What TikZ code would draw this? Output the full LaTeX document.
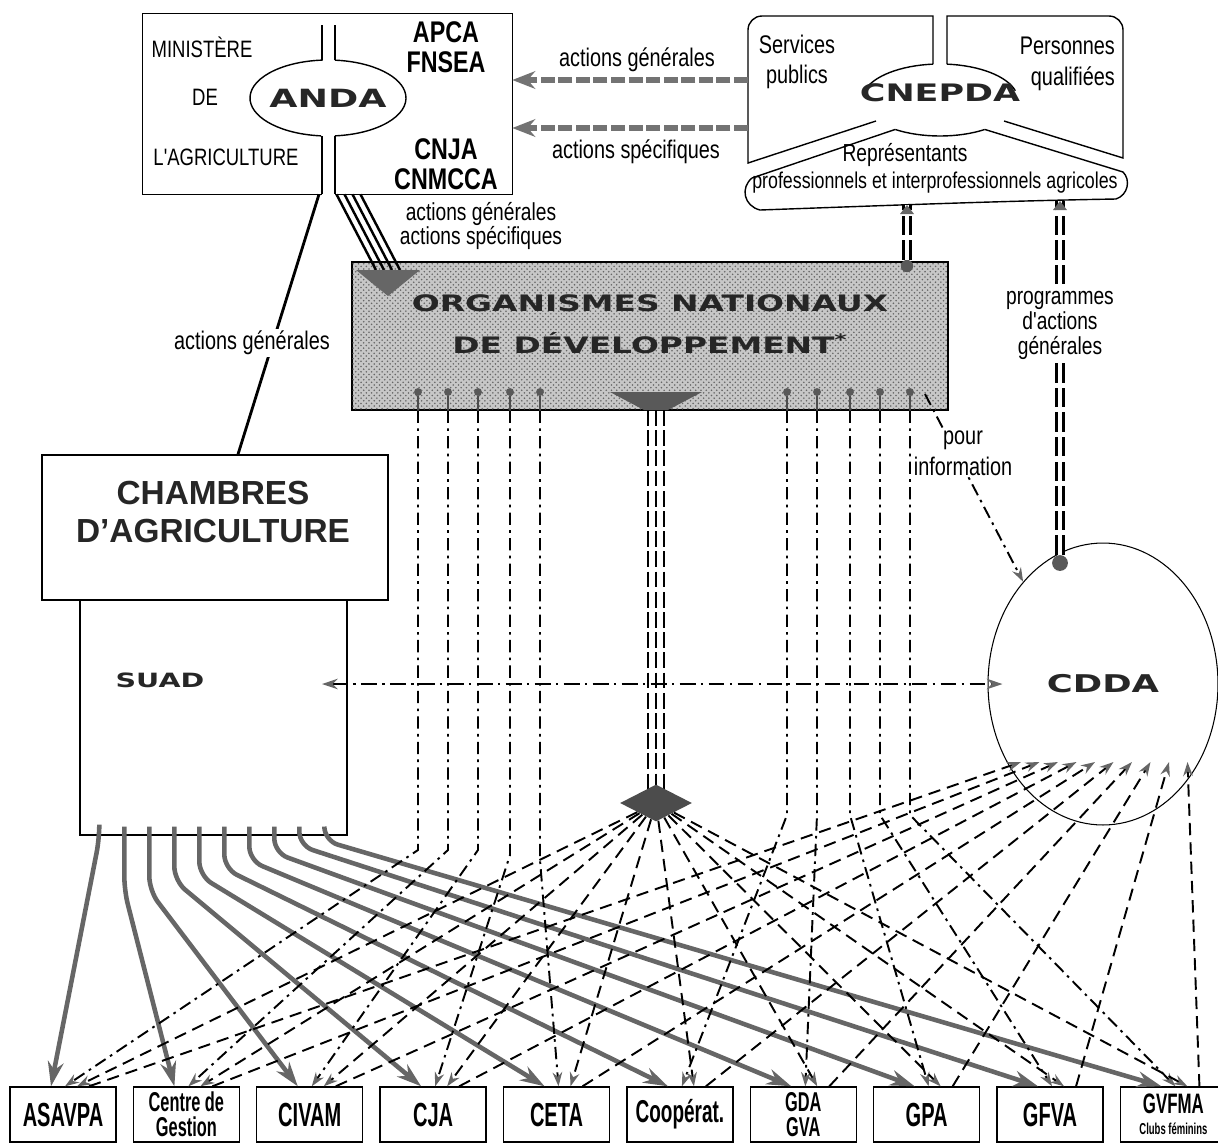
\documentclass[tikz,border=0pt]{standalone}
\usepackage{fontspec}
\setmainfont{Liberation Sans}
\newfontfamily\condfont[FakeStretch=0.78]{Liberation Sans}
\newfontfamily\narrowfont[FakeStretch=0.6]{Liberation Sans}
\newfontfamily\widefont[FakeStretch=1.45]{DejaVu Sans}
\usepackage{tikz}
\usetikzlibrary{arrows.meta,positioning,calc,shapes.geometric,patterns}

\tikzset{
  lbl/.style={font=\condfont\fontsize{14.5}{17.5}\selectfont, inner sep=1pt, align=center},
  caps/.style={font=\condfont\fontsize{13.5}{16}\selectfont, inner sep=1pt},
  orgs/.style={font=\condfont\bfseries\fontsize{17}{17}\selectfont, inner sep=0pt, align=center},
  wide/.style={text=black!85, inner sep=1pt, align=center},
  groupbox/.style={draw, thick, minimum width=2.12cm, minimum height=1.1cm, inner sep=1pt, align=center, font=\narrowfont\bfseries\fontsize{19}{19}\selectfont},
  knob/.style={circle, fill=black!65, inner sep=0pt, minimum size=4.5pt},
  thin tip/.style={>={Stealth[length=8pt,width=5.5pt,color=black!60]}},
  suadarrow/.style={->, >={Stealth[length=14pt,width=9pt]}, line width=2.6pt, draw=black!60, rounded corners=8pt},
  hubline/.style={->, thin tip, line width=1.1pt, dash pattern=on 7pt off 4pt},
  pinline/.style={->, thin tip, line width=1.1pt, dash pattern=on 7pt off 3pt on 1.5pt off 3pt},
  cddaline/.style={->, thin tip, line width=1.1pt, dash pattern=on 7pt off 4pt},
  actarrow/.style={->, >={Stealth[length=13pt,width=10pt]}, line width=3.2pt, draw=black!55, dash pattern=on 8pt off 2pt},
  dbl/.style={double, double distance=2pt, line width=2pt, dash pattern=on 11pt off 3pt},
  tripleline/.style={line width=1.6pt, dash pattern=on 9pt off 2.5pt},
}

\begin{document}
\begin{tikzpicture}[x=0.02cm,y=0.02cm]
  \useasboundingbox (0,0) rectangle (1218,-1144);

  \node[minimum width=7.38cm, minimum height=3.6cm, inner sep=0] (min) at (327.5,-104) {};
  \draw[thick] (min.south -| 322,0) -| (min.north west) -| (min.south east) -- (min.south -| 335,0);
  \draw[thick] (322,-25) -- (322,-60) (335,-25) -- (335,-60) (322,-136) -- (322,-194) (335,-136) -- (335,-194);
  \draw[thick] (328,-98) ++(94:78 and 38) arc[start angle=94,end angle=265,x radius=78,y radius=38];
  \draw[thick] (328,-98) ++(-85:78 and 38) arc[start angle=-85,end angle=85,x radius=78,y radius=38];
  \node[wide, font=\widefont\bfseries\fontsize{14.3}{15}\selectfont] (anda) at (328,-98) {ANDA};
  \node[caps] (mi1) at (202,-47) {MINISTÈRE};
  \node[caps] (mi2) at (205,-97) {DE};
  \node[caps] (mi3) at (226,-157) {L'AGRICULTURE};
  \node[orgs] (apca) at (446,-47) {APCA\\FNSEA};
  \node[orgs] (cnja) at (446,-164) {CNJA\\CNMCCA};

  \draw[thick] (933,-64) -- (933,-16) -- (762,-16) arc[start angle=90,end angle=180,radius=14] -- (748,-163) -- (876,-121);
  \draw[thick] (947,-64) -- (947,-16) -- (1109,-16) arc[start angle=90,end angle=0,radius=14] -- (1123,-158) -- (1004,-121);
  \draw[thick] (940,-100) ++(95:78 and 36) arc[start angle=95,end angle=165,x radius=78,y radius=36];
  \draw[thick] (940,-100) ++(15:78 and 36) arc[start angle=15,end angle=85,x radius=78,y radius=36];
  \draw[thick] (940,-100) ++(235:78 and 36) arc[start angle=235,end angle=305,x radius=78,y radius=36];
  \draw[thick] (895,-129.5) -- (752,-178) .. controls (740,-188) and (744,-206) .. (760,-210)
    .. controls (900,-205) and (1000,-201) .. (1116,-199) .. controls (1128,-195) and (1131,-180) .. (1123,-172) -- (985,-129.5);
  \node[wide, font=\widefont\bfseries\fontsize{13.7}{14}\selectfont] (cnepda) at (940,-93) {CNEPDA};
  \node[lbl] (svc) at (797,-62) {Services\\publics};
  \node[lbl, align=right, anchor=east] (pq) at (1117,-64) {Personnes\\qualifiées};
  \node[lbl, font=\condfont\fontsize{14}{16}\selectfont] (rep1) at (905,-155) {Représentants};
  \node[lbl, font=\condfont\fontsize{13}{15}\selectfont] (rep2) at (935,-183) {professionnels et interprofessionnels agricoles};

  \coordinate (ag) at (748,-80);
  \coordinate (as) at (748,-128);
  \draw[actarrow] (ag) -- (ag -| min.east);
  \draw[actarrow] (as) -- (as -| min.east);
  \node[lbl] (agl) at (637,-60) {actions générales};
  \node[lbl] (asl) at (636,-152) {actions spécifiques};

  \node[draw, thick, fill=black!22, postaction={pattern=crosshatch dots, pattern color=black!60}, minimum width=11.92cm, minimum height=2.96cm, inner sep=0] (onad) at (650,-336) {};
  \node[wide, font=\widefont\bfseries\fontsize{12.9}{24}\selectfont] (onadtxt) at (650,-324) {ORGANISMES NATIONAUX\\DE DÉVELOPPEMENT\textsuperscript{*}};

  \node[draw, thick, minimum width=6.92cm, minimum height=2.9cm, inner sep=0] (ch) at (215,-527.5) {};
  \node[font=\bfseries\fontsize{19}{21.6}\selectfont, align=center, text=black!85] (chtxt) at (213,-512) {CHAMBRES\\D'AGRICULTURE};
  \node[draw, thick, minimum width=5.34cm, minimum height=4.7cm, inner sep=0] (suad) at (213.5,-717.5) {};
  \node[wide, font=\widefont\bfseries\fontsize{11.2}{12}\selectfont] (suadtxt) at (160,-680) {SUAD};

  \draw[line width=1.6pt] ([xshift=-0.17cm]min.south) -- ([xshift=0.46cm]ch.north);
  \node[lbl, fill=white] (agc) at (252,-343) {actions générales};

  \coordinate (bun) at (388,-270);
  \foreach \k in {0,...,3}
    \draw[line width=1.4pt] ([xshift={(9+8*\k)*0.02cm}]min.south) -- ([xshift={(-12+8*\k)*0.02cm}]bun);
  \fill[black!60] (bun) ++(-32,0) -- ++(64,0) -- ++(-32,-26) -- cycle;
  \node[lbl, font=\condfont\fontsize{14}{13.5}\selectfont] (agsl) at (481,-226) {actions générales\\actions spécifiques};

  \node[draw, semithick, ellipse, minimum width=4.6cm, minimum height=5.64cm, wide, inner sep=0, font=\widefont\bfseries\fontsize{13.9}{14}\selectfont] (cdda) at (1103,-684) {CDDA};

  \coordinate (rp1) at (907,-205);
  \coordinate (rp2) at (1060,-201);
  \node[knob, minimum size=7pt] (ob) at (907,-266) {};
  \node[knob, minimum size=9pt] (cb) at (1060,-563) {};
  \draw[dbl] (ob) -- (rp1);
  \draw[dbl] (cb) -- (rp2);
  \foreach \p in {rp1,rp2}
    \fill[black!60] (\p) ++(-7,-9) -- ++(7,9) -- ++(7,-9) -- cycle;
  \node[lbl, fill=white, font=\condfont\fontsize{14}{14.2}\selectfont] (prog) at (1060,-325) {programmes\\d'actions\\générales};

  \foreach \i/\x in {1/418,2/448,3/478,4/510,5/540,6/787,7/817,8/850,9/880,10/910}{
    \node[knob] (op\i) at (\x,-392) {};
    \draw[line width=1.4pt, black!70] (op\i) -- (op\i |- onad.south);
  }

  \coordinate (fun) at (656,-410);
  \fill[black!65] (fun) ++(-46,18) -- ++(92,0) -- ++(-34,-18) -- ++(-24,0) -- cycle;
  \coordinate (hc) at (656,-803);
  \foreach \dx in {-8,0,8}
    \draw[tripleline] ([xshift=\dx*0.02cm]fun) -- ([xshift=\dx*0.02cm]hc);
  \node[diamond, fill=black!70, minimum width=1.44cm, minimum height=0.74cm, inner sep=0] (hub) at (hc) {};

  \node[groupbox] (b1) at (63,-1114.5) {ASAVPA};
  \node[groupbox, right=0.32cm of b1, font=\narrowfont\bfseries\fontsize{15.5}{14}\selectfont] (b2) {Centre de\\Gestion};
  \node[groupbox, right=0.32cm of b2] (b3) {CIVAM};
  \node[groupbox, right=0.32cm of b3] (b4) {CJA};
  \node[groupbox, right=0.32cm of b4] (b5) {CETA};
  \node[groupbox, right=0.32cm of b5, font=\narrowfont\bfseries\fontsize{18}{18}\selectfont] (b6) {Coopérat.};
  \node[groupbox, right=0.32cm of b6, font=\narrowfont\bfseries\fontsize{15.5}{14}\selectfont] (b7) {GDA\\GVA};
  \node[groupbox, right=0.32cm of b7] (b8) {GPA};
  \node[groupbox, right=0.32cm of b8] (b9) {GFVA};
  \node[groupbox, right=0.32cm of b9, font=\narrowfont\bfseries\fontsize{16}{12}\selectfont] (b10) {GVFMA\\{\fontsize{9}{9}\selectfont Clubs féminins}};

  \foreach \i/\d in {1/12,2/64,3/64,4/54,5/49,6/42,7/34,8/26,9/19,10/14}{
    \coordinate (sp\i) at ([xshift={(25*\i-5)*0.02cm},yshift=0.18cm]suad.south west);
    \draw[suadarrow] (sp\i) -- ++(0,-\d) -- ([xshift=-0.24cm]b\i.north);
  }

  \foreach \i/\y in {1/850,2/850,3/850,4/855,5/860,6/815,7/815,8/815,9/815,10/815}
    \draw[pinline] (op\i |- onad.south) -- (op\i |- 0,-\y) -- ([xshift=0.04cm]b\i.north);

  \foreach \i in {1,...,10}{
    \draw[hubline] (hub) -- ([xshift=0.28cm]b\i.north);
    \coordinate (ct\i) at (1002.5+18.5*\i,-762);
    \draw[cddaline] ([xshift=0.52cm]b\i.north) -- (ct\i);
  }

  \coordinate (sa) at (322,-684);
  \draw[<->, >={Stealth[length=9pt,width=6pt,color=black!60]}, line width=1.1pt, dash pattern=on 9pt off 3pt on 1.5pt off 3pt] (sa) -- ([xshift=0.3cm]cdda.west);

  \coordinate (pinf) at (925,-394);
  \draw[pinline] (pinf) -- (cdda.128);
  \node[lbl, fill=white] (pourinf) at (963,-453) {pour\\information};
\end{tikzpicture}
\end{document}
